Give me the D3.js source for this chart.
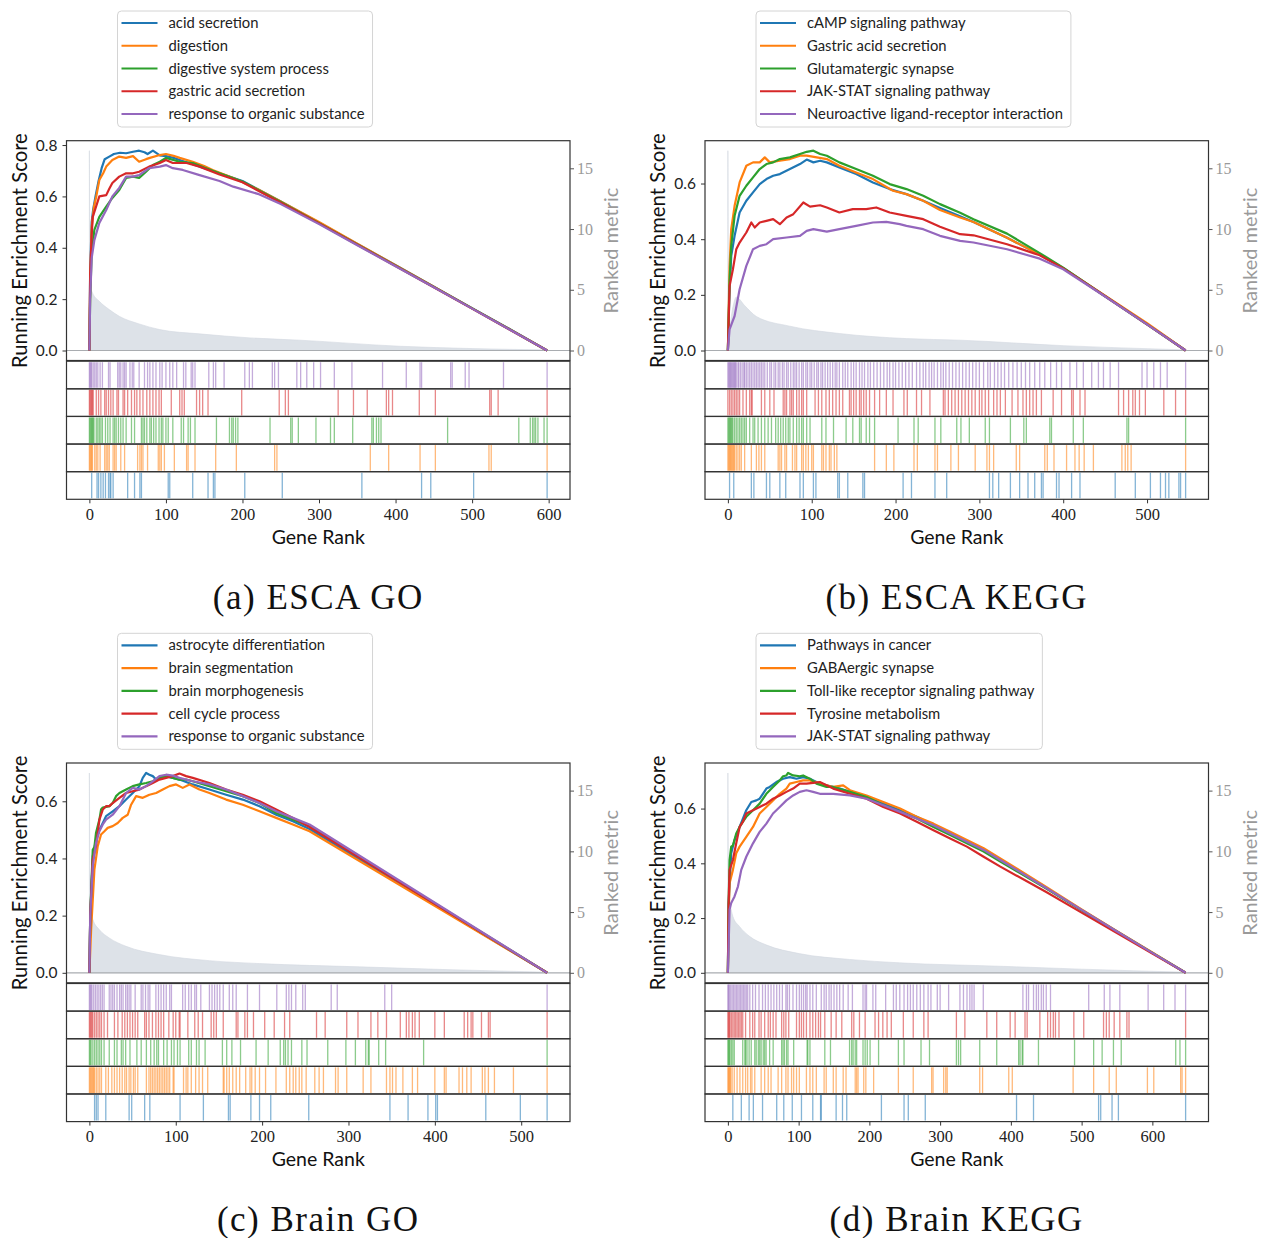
<!DOCTYPE html>
<html><head><meta charset="utf-8">
<script src="https://cdn.jsdelivr.net/npm/d3@7"></script>
<style>
html,body{margin:0;padding:0;background:#fff;}
svg{display:block;}
</style></head><body>
<svg id="fig" width="1262" height="1238"></svg>
<script>
// tab10 colours, one per gene set (legend order)
const PALETTE = ["#1f77b4", "#ff7f0e", "#2ca02c", "#d62728", "#9467bd"];

// ---------------- (a) ESCA GO ----------------
const escaGoTerms = ["acid secretion", "digestion", "digestive system process", "gastric acid secretion", "response to organic substance"];
const escaGoScores = [
  [[0,0],[1,0.3],[3,0.5],[5,0.55],[8,0.6],[12,0.66],[16,0.71],[20,0.745],[26,0.755],[32,0.765],[40,0.77],[48,0.768],[57,0.774],[65,0.778],[72,0.772],[76,0.765],[83,0.778],[92,0.76],[100,0.757],[110,0.75],[120,0.74],[135,0.725],[150,0.71],[170,0.69],[200,0.66],[250,0.58],[300,0.498],[350,0.415],[406,0.322],[450,0.248],[500,0.165],[550,0.082],[598,0]],
  [[0,0],[1,0.25],[3,0.48],[6,0.56],[9,0.6],[13,0.664],[18,0.69],[22,0.716],[30,0.742],[39,0.755],[48,0.75],[57,0.757],[65,0.735],[74,0.745],[79,0.75],[92,0.761],[100,0.765],[110,0.758],[118,0.75],[135,0.735],[150,0.718],[161,0.703],[188,0.672],[220,0.628],[250,0.58],[300,0.5],[350,0.416],[400,0.332],[450,0.248],[500,0.164],[550,0.081],[598,0]],
  [[0,0],[1,0.2],[3,0.38],[6.5,0.47],[13,0.52],[22,0.56],[30,0.594],[39,0.625],[48,0.672],[57,0.677],[65,0.672],[74,0.696],[83,0.722],[92,0.735],[100,0.75],[118,0.735],[135,0.73],[150,0.712],[170,0.69],[200,0.658],[250,0.578],[300,0.496],[350,0.413],[400,0.33],[450,0.247],[500,0.164],[550,0.081],[598,0]],
  [[0,0],[1,0.3],[3,0.45],[4.4,0.52],[8.7,0.56],[13,0.6],[22,0.605],[26,0.63],[30,0.652],[39,0.677],[48,0.69],[57,0.69],[65,0.696],[78,0.716],[92,0.73],[100,0.742],[109,0.73],[127,0.73],[144,0.716],[170,0.685],[200,0.655],[250,0.575],[300,0.495],[350,0.412],[400,0.329],[450,0.246],[500,0.163],[550,0.08],[598,0]],
  [[0,0],[1,0.2],[3,0.36],[6.5,0.43],[13,0.497],[22,0.547],[30,0.6],[39,0.633],[48,0.677],[57,0.677],[65,0.683],[78,0.71],[92,0.716],[100,0.722],[109,0.71],[122,0.703],[144,0.683],[170,0.66],[188,0.638],[220,0.61],[250,0.57],[300,0.492],[350,0.41],[400,0.328],[450,0.246],[500,0.163],[550,0.08],[598,0]]
];
const escaGoHits = [
  [3,10,12,15,18,21,25,27,28,31,50,59,66,68,103,105,135,155,162,164,203,252,356,434,446,502,598],
  [0,1,2,3,4,7,9,11,14,20,22,24,26,31,33,35,41,46,63,66,68,70,76,90,92,94,98,111,127,129,138,165,192,242,245,367,391,432,452,522,525,598],
  [0,1,2,3,4,5,6,9,11,13,15,17,21,24,27,31,33,35,38,41,44,48,55,59,68,70,72,75,79,81,84,87,91,94,96,100,103,109,120,123,129,132,138,166,183,186,188,191,194,236,263,265,273,296,315,320,344,369,371,375,378,381,468,561,576,579,581,583,586,594,598],
  [0,1,2,3,4,5,9,12,15,20,22,25,28,31,36,38,44,46,50,55,59,62,66,70,75,79,83,87,91,94,107,118,121,124,140,144,148,155,199,248,256,260,325,345,363,388,391,396,431,452,523,525,534,598],
  [0,1,2,3,5,7,9,11,14,17,25,27,37,39,41,44,46,48,53,56,58,65,72,76,79,83,87,92,95,100,105,109,114,123,126,133,135,138,156,162,165,176,203,209,213,239,242,247,271,276,284,293,302,320,343,383,414,432,434,472,474,491,496,541,598]
];
const escaGoMetric = [[0,16.45],[1,5.3],[4,4.76],[13,4.05],[26,3.37],[39,2.82],[65,2.19],[92,1.72],[144,1.37],[210,1.04],[275,0.85],[406,0.35],[500,0.16],[598,0.05]];
const escaGoRankTicks = [0,100,200,300,400,500,600];
const escaGoScoreTicks = [0,0.2,0.4,0.6,0.8];

// ---------------- (b) ESCA KEGG ----------------
const escaKeggTerms = ["cAMP signaling pathway", "Gastric acid secretion", "Glutamatergic synapse", "JAK-STAT signaling pathway", "Neuroactive ligand-receptor interaction"];
const escaKeggScores = [
  [[0,0],[2,0.22],[4,0.34],[8,0.412],[14,0.496],[22,0.538],[30,0.568],[38,0.598],[46,0.616],[54,0.628],[62,0.634],[74,0.652],[86,0.67],[94,0.686],[102,0.676],[110,0.682],[118,0.676],[133,0.658],[153,0.634],[173,0.604],[193,0.58],[213,0.562],[233,0.538],[253,0.512],[277,0.482],[293,0.462],[333,0.405],[372,0.345],[400,0.296],[450,0.195],[500,0.094],[546,0]],
  [[0,0],[2,0.3],[4,0.436],[8,0.52],[14,0.604],[22,0.664],[30,0.676],[38,0.676],[44,0.694],[50,0.676],[62,0.682],[74,0.688],[86,0.7],[94,0.7],[106,0.694],[118,0.688],[133,0.664],[153,0.64],[173,0.616],[197,0.574],[213,0.562],[233,0.538],[253,0.505],[277,0.478],[293,0.462],[333,0.405],[372,0.345],[400,0.296],[450,0.197],[500,0.098],[546,0]],
  [[0,0],[2,0.25],[4,0.376],[8,0.484],[14,0.556],[22,0.592],[30,0.622],[38,0.652],[46,0.67],[54,0.676],[62,0.688],[74,0.694],[86,0.706],[94,0.714],[102,0.718],[110,0.706],[118,0.7],[133,0.676],[153,0.652],[173,0.628],[193,0.598],[213,0.58],[233,0.556],[253,0.526],[277,0.495],[293,0.472],[333,0.42],[372,0.35],[400,0.298],[450,0.195],[500,0.094],[546,0]],
  [[0,0],[2,0.232],[6,0.292],[10,0.364],[14,0.388],[22,0.424],[28,0.46],[32,0.442],[38,0.46],[46,0.466],[54,0.472],[62,0.454],[70,0.478],[78,0.49],[90,0.532],[98,0.517],[110,0.522],[118,0.514],[133,0.496],[149,0.508],[165,0.508],[177,0.514],[193,0.496],[213,0.484],[233,0.472],[253,0.445],[277,0.418],[293,0.414],[333,0.382],[372,0.342],[400,0.295],[450,0.195],[500,0.094],[546,0]],
  [[0,0],[2,0.076],[8,0.124],[14,0.22],[22,0.304],[30,0.364],[38,0.376],[46,0.382],[54,0.4],[70,0.406],[86,0.412],[94,0.43],[102,0.436],[118,0.427],[133,0.436],[153,0.448],[173,0.46],[189,0.462],[205,0.454],[213,0.448],[233,0.436],[253,0.412],[277,0.394],[293,0.388],[333,0.364],[372,0.33],[400,0.292],[450,0.194],[500,0.094],[546,0]]
];
const escaKeggHits = [
  [2,7,28,31,46,50,62,69,86,90,102,105,131,133,143,161,163,209,219,247,261,312,316,323,337,348,358,366,374,376,392,395,410,420,462,486,504,516,522,526,538,540,546],
  [0,1,2,3,4,5,6,7,8,10,12,14,16,20,28,34,37,40,44,60,62,64,68,70,77,80,82,88,90,93,96,100,102,112,114,117,121,123,127,130,175,189,198,222,226,247,250,266,275,295,309,312,317,344,348,378,381,389,404,414,419,425,436,470,474,477,481,546],
  [0,1,2,3,4,5,6,8,10,12,14,16,18,20,22,26,30,32,36,40,44,48,52,57,60,63,66,69,72,74,78,82,85,88,90,94,98,112,117,126,141,149,157,159,165,169,175,203,222,227,247,254,273,278,288,307,312,337,353,356,384,386,412,424,476,478,546],
  [0,2,4,6,8,10,12,14,18,22,26,28,29,40,44,50,55,66,68,70,74,76,78,82,85,88,90,94,104,108,112,117,121,125,129,133,137,145,147,150,153,157,159,162,165,169,175,181,189,197,210,214,225,231,241,257,259,263,267,271,275,279,283,287,291,295,300,303,307,311,317,321,325,331,339,346,352,356,360,364,368,374,388,398,410,412,420,426,466,472,478,483,486,491,498,520,534,546],
  [0,1,2,3,4,5,6,7,8,9,10,12,13,15,17,19,20,22,24,26,28,30,32,34,36,38,40,42,44,47,50,52,55,57,60,62,65,67,70,72,75,78,80,82,85,88,90,93,95,98,100,103,106,108,111,113,116,119,122,125,128,130,133,137,140,143,147,150,153,157,160,163,167,170,174,178,182,186,190,193,197,200,204,208,212,216,220,225,229,233,236,240,243,246,250,254,257,260,264,268,272,276,280,284,288,292,296,300,305,310,313,318,322,326,330,335,340,345,350,355,360,366,372,378,385,392,398,408,416,424,434,442,448,456,466,494,500,508,516,524,546]
];
const escaKeggMetric = [[0,16.45],[1,1.7],[6,3.6],[10,4.4],[20,3.7],[34,2.8],[74,2.0],[133,1.4],[213,0.98],[277,0.85],[400,0.4],[500,0.15],[546,0.05]];
const escaKeggRankTicks = [0,100,200,300,400,500];
const escaKeggScoreTicks = [0,0.2,0.4,0.6];

// ---------------- (c) Brain GO ----------------
const brainGoTerms = ["astrocyte differentiation", "brain segmentation", "brain morphogenesis", "cell cycle process", "response to organic substance"];
const brainGoScores = [
  [[0,0],[1,0.2],[3.9,0.408],[7.7,0.466],[11.6,0.5],[19.3,0.548],[27,0.565],[34.8,0.583],[42.5,0.606],[50.2,0.629],[57.9,0.653],[61.8,0.682],[65.7,0.699],[69.5,0.693],[73.4,0.688],[77.3,0.676],[81.1,0.682],[88.8,0.688],[96.6,0.682],[104.3,0.676],[119.7,0.659],[139,0.641],[158.3,0.623],[177.6,0.606],[197,0.583],[216.3,0.553],[235.6,0.53],[254.9,0.503],[530,0]],
  [[0,0],[2,0.15],[5.8,0.361],[9.7,0.443],[13.5,0.484],[17.4,0.495],[21.2,0.507],[27,0.513],[32.8,0.524],[38.6,0.542],[44.4,0.553],[48.3,0.588],[54.1,0.618],[61.8,0.612],[69.5,0.623],[77.3,0.629],[85,0.641],[92.7,0.653],[100.4,0.659],[108.1,0.647],[115.9,0.659],[127.5,0.641],[139,0.629],[158.3,0.606],[177.6,0.588],[197,0.565],[216.3,0.542],[235.6,0.519],[254.9,0.495],[530,0]],
  [[0,0],[1,0.2],[3.9,0.43],[5.8,0.44],[7.7,0.49],[11.6,0.536],[13.5,0.571],[15.5,0.578],[23.2,0.583],[27,0.594],[30.9,0.618],[34.8,0.629],[42.5,0.641],[50.2,0.653],[57.9,0.659],[65.7,0.664],[73.4,0.67],[81.1,0.682],[88.8,0.688],[96.6,0.682],[104.3,0.676],[112,0.676],[119.7,0.67],[139,0.653],[158.3,0.635],[177.6,0.618],[197,0.594],[216.3,0.559],[235.6,0.536],[254.9,0.513],[530,0]],
  [[0,0],[1,0.2],[3.9,0.396],[7.7,0.443],[11.6,0.536],[15.5,0.571],[19.3,0.583],[23.2,0.583],[27,0.594],[34.8,0.612],[42.5,0.629],[50.2,0.635],[57.9,0.641],[65.7,0.653],[73.4,0.664],[81.1,0.676],[88.8,0.682],[96.6,0.688],[104.3,0.697],[112,0.688],[119.7,0.682],[139,0.664],[158.3,0.641],[177.6,0.623],[197,0.6],[216.3,0.571],[235.6,0.542],[254.9,0.51],[530,0]],
  [[0,0],[1,0.2],[3.9,0.373],[7.7,0.455],[11.6,0.495],[15.5,0.519],[19.3,0.536],[27,0.553],[34.8,0.583],[42.5,0.629],[50.2,0.647],[57.9,0.641],[65.7,0.653],[73.4,0.67],[81.1,0.688],[88.8,0.693],[96.6,0.69],[104.3,0.682],[119.7,0.67],[139,0.659],[158.3,0.641],[177.6,0.618],[197,0.594],[216.3,0.565],[235.6,0.542],[254.9,0.519],[530,0]]
];
const brainGoHits = [
  [6,8,10,19,46,49,64,70,105,132,161,163,187,197,210,254,348,369,392,401,403,459,499,530],
  [0,1,2,3,4,5,6,8,10,12,14,19,22,26,29,32,35,38,41,43,46,48,51,53,56,66,69,71,73,75,77,79,81,83,85,87,89,91,93,97,98,109,112,114,118,123,127,131,137,155,156,159,162,166,170,174,181,186,188,192,197,204,216,228,232,236,239,243,246,251,261,266,271,285,288,298,317,326,344,348,351,355,363,374,380,400,411,413,428,432,437,442,455,458,462,469,491,530],
  [0,1,2,4,6,8,10,12,14,17,23,29,32,37,39,42,47,55,60,66,71,75,78,80,86,90,95,98,102,105,115,118,124,127,134,154,159,165,175,193,207,221,225,227,230,234,246,252,276,297,308,320,323,324,335,343,387,530],
  [0,1,2,3,4,6,8,10,12,14,17,21,29,33,38,41,44,47,50,53,56,64,66,69,73,77,80,83,86,92,97,100,104,105,114,122,126,131,141,144,147,155,170,172,180,183,190,203,214,226,232,263,273,298,311,326,334,344,360,367,370,374,377,382,400,411,434,438,442,444,454,462,464,530],
  [0,1,2,3,5,7,9,11,13,15,17,23,25,27,29,32,35,37,39,42,44,46,48,53,60,62,65,68,70,77,80,83,86,89,93,95,108,111,115,118,122,124,129,139,142,145,148,151,155,162,166,170,183,197,217,228,231,234,239,247,250,280,287,342,350,530]
];
const brainGoMetric = [[0,16.45],[1,5.2],[2,4.9],[4,4.4],[11.6,3.55],[23,2.87],[42.5,2.18],[81,1.5],[139,1.0],[197,0.76],[313,0.49],[420,0.25],[530,0.05]];
const brainGoRankTicks = [0,100,200,300,400,500];
const brainGoScoreTicks = [0,0.2,0.4,0.6];

// ---------------- (d) Brain KEGG ----------------
const brainKeggTerms = ["Pathways in cancer", "GABAergic synapse", "Toll-like receptor signaling pathway", "Tyrosine metabolism", "JAK-STAT signaling pathway"];
const brainKeggScores = [
  [[0,0],[1,0.25],[4.7,0.437],[9.4,0.485],[16.6,0.533],[26,0.594],[33.1,0.624],[40.2,0.63],[44.9,0.636],[54.4,0.673],[59.1,0.679],[68.5,0.697],[78,0.709],[87.5,0.715],[96.9,0.709],[106.3,0.715],[115.8,0.709],[125.2,0.697],[139.4,0.685],[158.3,0.673],[172.5,0.661],[196.1,0.642],[219.7,0.618],[243.4,0.594],[267,0.57],[290.6,0.539],[314.2,0.509],[337.8,0.479],[361.5,0.449],[385.1,0.412],[450,0.31],[500,0.23],[550,0.151],[600,0.073],[647,0]],
  [[0,0],[1,0.2],[2.4,0.327],[7.1,0.376],[11.8,0.437],[16.6,0.461],[26,0.497],[35.5,0.533],[44.9,0.582],[54.4,0.606],[63.8,0.63],[73.3,0.654],[82.7,0.673],[87.5,0.691],[96.9,0.697],[106.3,0.703],[115.8,0.703],[130,0.691],[148.9,0.679],[163,0.685],[172.5,0.667],[196.1,0.648],[219.7,0.624],[243.4,0.6],[267,0.57],[290.6,0.545],[314.2,0.515],[337.8,0.485],[361.5,0.455],[385.1,0.418],[450,0.314],[500,0.232],[550,0.152],[600,0.074],[647,0]],
  [[0,0],[1,0.25],[2.4,0.412],[4.7,0.461],[7.1,0.465],[11.8,0.509],[16.6,0.533],[21.3,0.552],[26,0.57],[35.5,0.594],[44.9,0.618],[54.4,0.654],[63.8,0.679],[73.3,0.703],[78,0.718],[82.7,0.721],[85.1,0.73],[92.2,0.721],[101.6,0.718],[106.3,0.721],[115.8,0.709],[125.2,0.691],[139.4,0.679],[148.9,0.679],[172.5,0.661],[196.1,0.642],[219.7,0.612],[243.4,0.588],[267,0.564],[290.6,0.533],[314.2,0.503],[337.8,0.473],[361.5,0.443],[385.1,0.406],[450,0.308],[500,0.228],[550,0.15],[600,0.073],[647,0]],
  [[0,0],[1,0.25],[2.4,0.376],[7.1,0.412],[11.8,0.473],[16.6,0.533],[21.3,0.552],[26,0.582],[35.5,0.594],[44.9,0.606],[54.4,0.618],[63.8,0.636],[73.3,0.648],[82.7,0.661],[92.2,0.673],[101.6,0.691],[111.1,0.691],[120.5,0.694],[130,0.697],[139.4,0.685],[148.9,0.673],[172.5,0.654],[196.1,0.636],[219.7,0.606],[243.4,0.582],[267,0.552],[290.6,0.521],[314.2,0.491],[337.8,0.461],[361.5,0.424],[385.1,0.388],[450,0.295],[500,0.22],[550,0.145],[600,0.07],[647,0]],
  [[0,0],[2.4,0.231],[4.7,0.255],[9.4,0.279],[14.2,0.315],[18.9,0.376],[26,0.424],[35.5,0.473],[44.9,0.515],[54.4,0.545],[63.8,0.582],[73.3,0.606],[82.7,0.63],[92.2,0.648],[101.6,0.661],[111.1,0.667],[120.5,0.661],[130,0.654],[148.9,0.654],[172.5,0.648],[196.1,0.636],[219.7,0.612],[243.4,0.588],[267,0.564],[290.6,0.539],[314.2,0.509],[337.8,0.479],[361.5,0.449],[385.1,0.412],[450,0.31],[500,0.23],[550,0.151],[600,0.073],[647,0]]
];
const brainKeggHits = [
  [7,19,30,36,49,69,79,91,104,120,131,132,153,162,168,217,249,255,279,408,432,524,527,543,552,647],
  [0,1,2,3,4,6,9,13,17,21,25,28,32,34,38,47,52,57,61,71,76,82,85,90,93,97,101,111,116,120,125,136,139,149,153,163,167,180,182,184,192,195,206,241,262,288,290,305,308,310,356,360,397,402,488,517,539,549,593,602,640,642,647],
  [0,1,2,3,5,7,9,21,24,25,27,30,33,38,40,43,45,47,50,52,54,59,64,76,78,80,83,85,93,112,113,116,137,145,172,175,177,180,182,191,194,197,201,213,241,249,273,285,323,326,329,356,380,411,413,416,417,439,490,517,529,545,556,633,639,647],
  [0,1,2,3,5,7,9,11,13,15,17,19,21,25,31,35,38,44,47,52,57,60,64,68,76,79,82,86,97,101,104,107,111,116,120,124,128,131,137,146,153,161,175,178,186,194,208,213,219,225,231,248,262,277,283,323,335,366,380,399,406,420,423,441,452,456,460,463,468,489,503,531,535,539,546,554,564,567,647],
  [0,1,2,4,6,8,10,12,14,16,18,20,22,24,26,28,31,35,39,44,49,53,57,61,65,69,73,77,82,84,87,92,97,101,104,107,110,112,116,120,125,132,136,139,143,146,150,154,158,163,170,176,191,194,196,205,209,223,234,238,243,249,254,258,262,267,272,277,283,287,296,300,312,328,333,338,342,345,348,361,417,422,425,432,436,439,443,446,450,456,510,532,540,554,594,616,632,647]
];
const brainKeggMetric = [[0,16.45],[1,5.8],[3.3,5.5],[7,4.65],[16.6,3.8],[30.7,3.0],[54,2.3],[101,1.58],[172,1.1],[243,0.82],[385,0.54],[500,0.3],[647,0.05]];
const brainKeggRankTicks = [0,100,200,300,400,500,600];
const brainKeggScoreTicks = [0,0.2,0.4,0.6];

const metricTicks = [0,5,10,15];

// ---------------- layout ----------------
const panels = [
  {title: "(a) ESCA GO",   terms: escaGoTerms,    scores: escaGoScores,    hits: escaGoHits,    metric: escaGoMetric,    rankTicks: escaGoRankTicks,    scoreTicks: escaGoScoreTicks,    lastRank: 598, col: 0, row: 0},
  {title: "(b) ESCA KEGG", terms: escaKeggTerms,  scores: escaKeggScores,  hits: escaKeggHits,  metric: escaKeggMetric,  rankTicks: escaKeggRankTicks,  scoreTicks: escaKeggScoreTicks,  lastRank: 546, col: 1, row: 0},
  {title: "(c) Brain GO",  terms: brainGoTerms,   scores: brainGoScores,   hits: brainGoHits,   metric: brainGoMetric,   rankTicks: brainGoRankTicks,   scoreTicks: brainGoScoreTicks,   lastRank: 530, col: 0, row: 1},
  {title: "(d) Brain KEGG",terms: brainKeggTerms, scores: brainKeggScores, hits: brainKeggHits, metric: brainKeggMetric, rankTicks: brainKeggRankTicks, scoreTicks: brainKeggScoreTicks, lastRank: 647, col: 1, row: 1}
];

const L = {
  colLeft: [66.5, 705], boxW: 503.5, rowShift: [0, 622.3],
  mainTop: 140.7, mainBottom: 360.5, barTop: 361.2, barBottom: 499.3,
  legendTop: 11, legendRowGap: 22.75
};
const SANS = "Lato, 'Open Sans', sans-serif";
const SERIF = "'Liberation Serif', 'DejaVu Serif', serif";

const svg = d3.select("#fig");

panels.forEach(p => {
  const left = L.colLeft[p.col], right = left + L.boxW, dy = L.rowShift[p.row];
  const top = L.mainTop + dy, bot = L.mainBottom + dy;
  const bTop = L.barTop + dy, bBot = L.barBottom + dy;
  const g = svg.append("g");

  const pad = p.lastRank * 0.05;
  const x = d3.scaleLinear().domain([-pad, p.lastRank + pad]).range([left, right]);
  const allEs = p.scores.flat().map(d => d[1]);
  const esHi = d3.max(allEs), esLo = Math.min(0, d3.min(allEs)), esSpan = esHi - esLo;
  const y = d3.scaleLinear().domain([esLo - 0.05 * esSpan, esHi + 0.05 * esSpan]).range([bot, top]);
  const mHi = d3.max(p.metric, d => d[1]);
  const y2 = d3.scaleLinear().domain([-0.05 * mHi, 1.05 * mHi]).range([bot, top]);

  // ranked metric, shaded
  g.append("path").datum(p.metric)
    .attr("d", d3.area().x(d => x(d[0])).y0(y2(0)).y1(d => y2(d[1])).curve(d3.curveMonotoneX))
    .attr("fill", "#dde2e8").attr("stroke", "#d3d9e0").attr("stroke-width", 0.6);

  // zero reference line
  g.append("line").attr("x1", left).attr("x2", right).attr("y1", y(0)).attr("y2", y(0))
    .attr("stroke", "#a9acb0").attr("stroke-width", 1.2);

  // running enrichment score curves
  const line = d3.line().x(d => x(d[0])).y(d => y(d[1]));
  p.scores.forEach((s, i) => {
    g.append("path").datum(s).attr("d", line)
      .attr("fill", "none").attr("stroke", PALETTE[i]).attr("stroke-width", 2.2)
      .attr("stroke-linejoin", "round");
  });

  // frame of the score axes
  g.append("rect").attr("x", left).attr("y", top).attr("width", right - left).attr("height", bot - top)
    .attr("fill", "none").attr("stroke", "#333").attr("stroke-width", 1.2);

  // left axis
  const ax = g.append("g").attr("transform", `translate(${left},0)`)
    .call(d3.axisLeft(y).tickValues(p.scoreTicks).tickFormat(d3.format(".1f")).tickSize(4).tickPadding(5));
  ax.select(".domain").remove();
  ax.selectAll(".tick line").attr("stroke", "#333");
  ax.selectAll(".tick text").attr("font-family", SANS).attr("font-size", 15.5).attr("fill", "#222");

  // right axis (ranked metric)
  const ax2 = g.append("g").attr("transform", `translate(${right},0)`)
    .call(d3.axisRight(y2).tickValues(metricTicks).tickSize(4).tickPadding(3));
  ax2.select(".domain").remove();
  ax2.selectAll(".tick line").attr("stroke", "#555");
  ax2.selectAll(".tick text").attr("font-family", SERIF).attr("font-size", 16).attr("fill", "#9a9a9a");

  // hit barcodes: top row is the last gene set
  const rowH = (bBot - bTop) / 5;
  for (let k = 0; k < 5; k++) {
    const s = 4 - k, rt = bTop + k * rowH;
    g.append("g").selectAll("line").data(p.hits[s]).join("line")
      .attr("x1", d => x(d)).attr("x2", d => x(d))
      .attr("y1", rt + 1).attr("y2", rt + rowH - 1)
      .attr("stroke", PALETTE[s]).attr("stroke-opacity", 0.55).attr("stroke-width", 1.3);
    g.append("rect").attr("x", left).attr("y", rt).attr("width", right - left).attr("height", rowH)
      .attr("fill", "none").attr("stroke", "#333").attr("stroke-width", 1.2);
  }

  // gene rank axis
  const axb = g.append("g").attr("transform", `translate(0,${bBot})`)
    .call(d3.axisBottom(x).tickValues(p.rankTicks).tickSize(4).tickPadding(4.5));
  axb.select(".domain").remove();
  axb.selectAll(".tick line").attr("stroke", "#333");
  axb.selectAll(".tick text").attr("font-family", SERIF).attr("font-size", 16.5).attr("fill", "#222");

  const cx = (left + right) / 2;
  g.append("text").attr("x", cx).attr("y", 544 + dy).attr("text-anchor", "middle")
    .attr("font-family", SANS).attr("font-size", 19.5).attr("fill", "#111").text("Gene Rank");

  g.append("text").attr("transform", `translate(${left - 40},${(top + bot) / 2}) rotate(-90)`)
    .attr("text-anchor", "middle").attr("font-family", SANS).attr("font-size", 20.3).attr("fill", "#111")
    .text("Running Enrichment Score");

  g.append("text").attr("transform", `translate(${right + 48},${(top + bot) / 2}) rotate(-90)`)
    .attr("text-anchor", "middle").attr("font-family", SANS).attr("font-size", 20).attr("fill", "#9a9a9a")
    .text("Ranked metric");

  g.append("text").attr("x", cx).attr("y", 609 + dy).attr("text-anchor", "middle")
    .attr("font-family", SERIF).attr("font-size", 35).attr("letter-spacing", 1.5).attr("fill", "#111")
    .text(p.title);

  // legend
  const lg = g.append("g");
  const lx = left + 51, ly = L.legendTop + dy;
  const box = lg.append("rect").attr("x", lx).attr("y", ly).attr("height", 116).attr("rx", 4)
    .attr("fill", "#fff").attr("stroke", "#d4d4d4").attr("stroke-width", 1);
  let maxW = 0;
  p.terms.forEach((t, i) => {
    const ry = ly + 12 + i * L.legendRowGap;
    lg.append("line").attr("x1", lx + 4).attr("x2", lx + 40).attr("y1", ry).attr("y2", ry)
      .attr("stroke", PALETTE[i]).attr("stroke-width", 2.2);
    const tx = lg.append("text").attr("x", lx + 51).attr("y", ry).attr("dy", "0.35em")
      .attr("font-family", SANS).attr("font-size", 14.8).attr("fill", "#222").text(t);
    maxW = Math.max(maxW, tx.node().getComputedTextLength());
  });
  box.attr("width", 51 + maxW + 8);
});
</script>
</body></html>
